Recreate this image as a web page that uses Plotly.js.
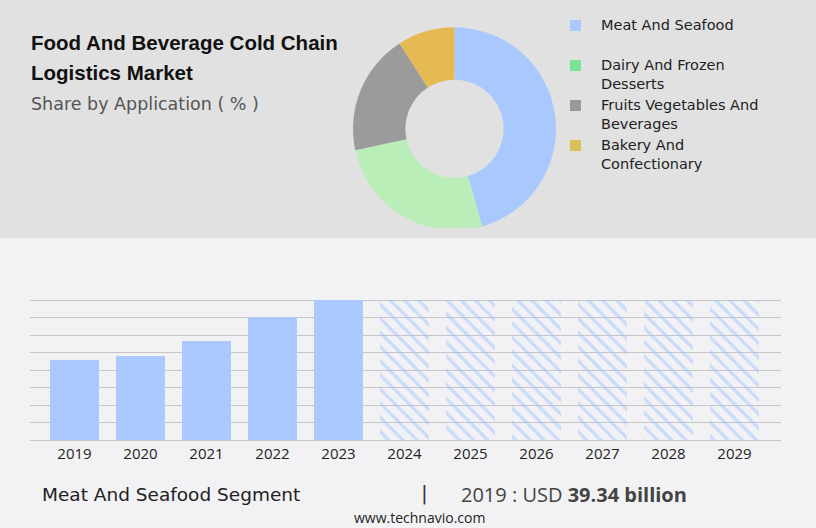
<!DOCTYPE html>
<html>
<head>
<meta charset="utf-8">
<script src="https://cdn.plot.ly/plotly-3.0.1.min.js"></script>
<style>html,body{margin:0;padding:0;background:#f2f2f4;}#chart{width:816px;height:528px;}</style>
</head>
<body>
<div id="chart"></div>
<script>
// ---- data ----
var segments = ['Meat And Seafood', 'Dairy And Frozen Desserts', 'Fruits Vegetables And Beverages', 'Bakery And Confectionary'];
var legendLabels = ['Meat And Seafood', 'Dairy And Frozen<br>Desserts', 'Fruits Vegetables And<br>Beverages', 'Bakery And<br>Confectionary'];
var shares = [45.6, 26.0, 19.3, 9.1];
var sliceColors = ['#a9c9fe', '#b9eeb9', '#9b9b9b', '#e5ba52'];
var legendColors = ['#a9c9ff', '#78e394', '#999999', '#d9c158'];

var histYears = ['2019', '2020', '2021', '2022', '2023'];
var histValues = [39.34, 41.3, 48.7, 60.3, 68.8];
var forecastYears = ['2024', '2025', '2026', '2027', '2028', '2029'];
var forecastValues = [68.8, 68.8, 68.8, 68.8, 68.8, 68.8];

var W = 816, H = 528;
function py(px) { return 1 - px / H; }
function pxx(px) { return px / W; }

var traces = [
  {
    type: 'pie', values: shares, labels: segments, sort: false, direction: 'clockwise',
    hole: 0.484, marker: {colors: sliceColors, line: {width: 0}}, textinfo: 'none',
    showlegend: false, hoverinfo: 'label+percent',
    domain: {x: [pxx(353), pxx(556)], y: [py(230.3), py(27.3)]}
  },
  {
    type: 'bar', x: histYears, y: histValues, width: 0.742,
    marker: {color: '#a9c9ff', line: {width: 0}}, showlegend: false, hoverinfo: 'x+y'
  },
  {
    type: 'bar', x: forecastYears, y: forecastValues, width: 0.742,
    marker: {color: '#a9c9ff', line: {width: 0},
      pattern: {shape: '\\', fillmode: 'overlay', fgcolor: '#a2c4ff', bgcolor: 'rgba(0,0,0,0)', size: 10, solidity: 0.32}},
    showlegend: false, hoverinfo: 'x'
  }
];

var shapes = [
  {type: 'rect', xref: 'paper', yref: 'paper', x0: 0, x1: 1, y0: py(238), y1: 1, fillcolor: '#e1e1e1', line: {width: 0}, layer: 'below'},
  {type: 'rect', xref: 'paper', yref: 'paper', x0: pxx(340), x1: pxx(570), y0: py(238), y1: py(227.7), fillcolor: '#e1e1e1', line: {width: 0}, layer: 'above'}
];

var legendFont = {family: 'DejaVu Sans', size: 14.5, color: '#222'};
var annotations = [
  {text: 'Food And Beverage Cold Chain', x: pxx(30), y: py(43), xanchor: 'left', yanchor: 'middle', font: {family: 'Liberation Sans', size: 20.5, color: '#111', weight: 700}},
  {text: 'Logistics Market', x: pxx(30), y: py(73), xanchor: 'left', yanchor: 'middle', font: {family: 'Liberation Sans', size: 20.5, color: '#111', weight: 700}},
  {text: 'Share by Application ( % )', x: pxx(30), y: py(103.5), xanchor: 'left', yanchor: 'middle', font: {family: 'DejaVu Sans', size: 17.5, color: '#555'}},
  {text: 'Meat And Seafood Segment', x: pxx(41), y: py(494), xanchor: 'left', yanchor: 'middle', font: {family: 'DejaVu Sans', size: 18.5, color: '#222'}},
  {text: '|', x: pxx(424), y: py(493), xanchor: 'center', yanchor: 'middle', font: {family: 'DejaVu Sans', size: 20, color: '#333'}},
  {text: '2019 : USD <b>39.34 billion</b>', x: pxx(460), y: py(494), xanchor: 'left', yanchor: 'middle', font: {family: 'Open Sans', size: 20, color: '#444'}},
  {text: 'www.technavio.com', x: pxx(420), y: py(517), xanchor: 'center', yanchor: 'middle', font: {family: 'Open Sans', size: 14, color: '#222'}}
];
var baseYs = [30, 70, 110, 150];
for (var i = 0; i < segments.length; i++) {
  shapes.push({type: 'rect', xref: 'paper', yref: 'paper', x0: pxx(570), x1: pxx(581), y0: py(baseYs[i] + 1), y1: py(baseYs[i] - 10),
    fillcolor: legendColors[i], line: {width: 0}, layer: 'above'});
  annotations.push({text: legendLabels[i], x: pxx(600), y: py(baseYs[i] - 14), xanchor: 'left', yanchor: 'top', align: 'left', font: legendFont});
}
annotations.forEach(function (a) { a.xref = 'paper'; a.yref = 'paper'; a.showarrow = false; a.borderpad = 0; });

var layout = {
  width: W, height: H, margin: {l: 0, r: 0, t: 0, b: 0},
  paper_bgcolor: '#f2f2f4', plot_bgcolor: 'rgba(0,0,0,0)',
  barmode: 'overlay', showlegend: false,
  xaxis: {domain: [pxx(30), pxx(781)], type: 'category', range: [-0.674, 10.705],
    categoryorder: 'array', categoryarray: histYears.concat(forecastYears),
    showgrid: false, zeroline: false, showline: false, ticks: '', ticklabelstandoff: 3,
    tickfont: {family: 'Open Sans', size: 15, color: '#222'}, fixedrange: true},
  yaxis: {domain: [py(440), py(293.49)], range: [0, 72], dtick: 8.6, tick0: 0,
    showgrid: true, gridcolor: '#c6c6c6', gridwidth: 1, zeroline: true, zerolinecolor: '#c6c6c6', zerolinewidth: 1,
    showticklabels: false, ticks: '', fixedrange: true},
  shapes: shapes, annotations: annotations
};

Plotly.newPlot('chart', traces, layout, {displayModeBar: false, staticPlot: true});
</script>
</body>
</html>
